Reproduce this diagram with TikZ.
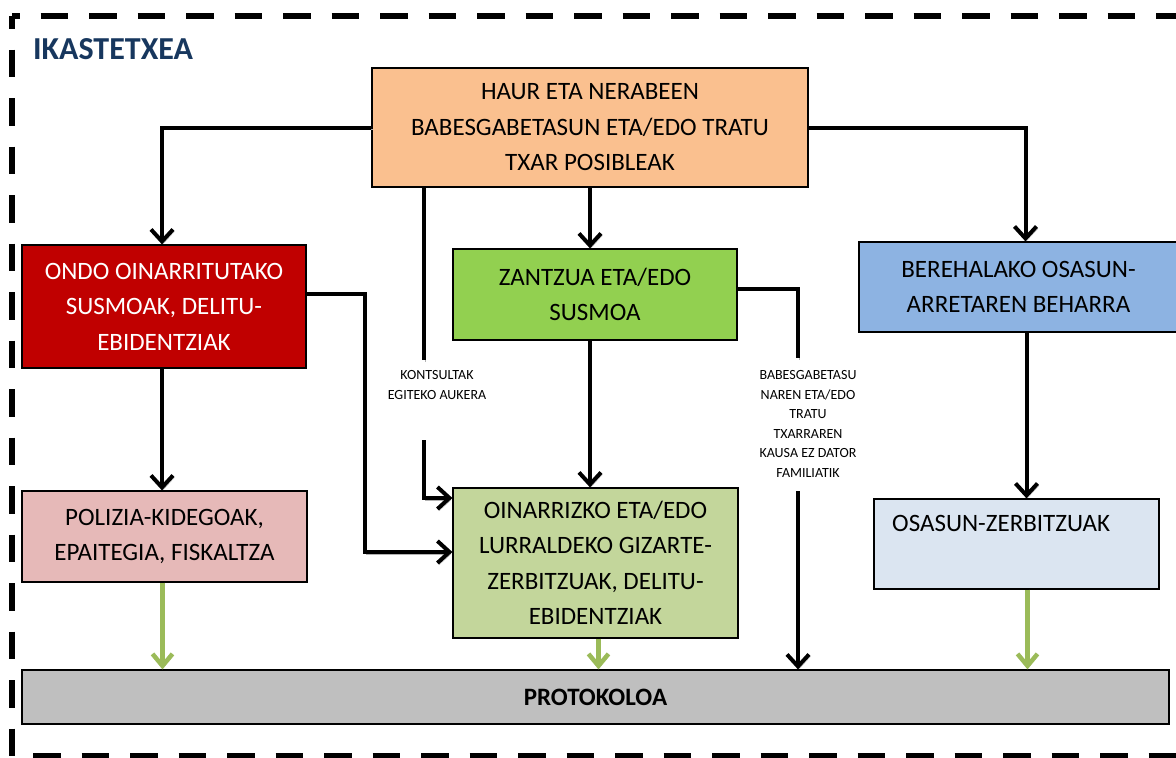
\documentclass[tikz,border=0pt]{standalone}
\usepackage{fontspec}
\setmainfont{Carlito}
\usetikzlibrary{arrows.meta}
\definecolor{cTop}{HTML}{FAC08F}
\definecolor{cRed}{HTML}{C00000}
\definecolor{cGreen}{HTML}{92D050}
\definecolor{cBlue}{HTML}{8DB3E2}
\definecolor{cPink}{HTML}{E6B9B8}
\definecolor{cOlive}{HTML}{C3D69B}
\definecolor{cLight}{HTML}{DBE5F1}
\definecolor{cGrey}{HTML}{BFBFBF}
\definecolor{cTitle}{HTML}{17375E}
\definecolor{cArrG}{HTML}{9BBB59}
\begin{document}
\begin{tikzpicture}[x=1pt,y=-1pt,
  box/.style={draw=black, line width=1.2pt, inner sep=0pt, align=center,
    font=\fontsize{25}{35.5}\selectfont},
  small/.style={align=center, inner sep=0pt, font=\fontsize{14}{19.5}\selectfont},
  conn/.style={line width=4pt, draw=black,
    -{Straight Barb[length=12pt,width=22pt]},
    preaction={draw=black!30, transform canvas={shift={(1.5pt,-2pt)}}}},
  line/.style={line width=4pt, draw=black,
    preaction={draw=black!30, transform canvas={shift={(1.5pt,-2pt)}}}},
  gconn/.style={line width=4.5pt, draw=cArrG,
    -{Straight Barb[length=12pt,width=20pt]}},
  border/.style={line width=5.5pt, draw=black, dash pattern=on 27.5pt off 21pt}
]
\useasboundingbox (0,0) rectangle (1176,758);
% dashed frame
\draw[border, dash phase=19.8pt] (12,16) -- (1200,16);
\draw[border, dash phase=15pt] (12,16) -- (12,756) -- (1200,756);
% title
\node[anchor=base west, inner sep=0pt, text=cTitle, font=\fontsize{32}{36}\selectfont\bfseries] (title) at (33,59) {IKASTETXEA};
% boxes
\node[box, fill=cTop, minimum width=436pt, minimum height=119pt] (top) at (590,127.5)
  {HAUR ETA NERABEEN\\BABESGABETASUN ETA/EDO TRATU\\TXAR POSIBLEAK};
\node[box, fill=cRed, text=white, minimum width=284pt, minimum height=123pt] (red) at (164,306.5)
  {ONDO OINARRITUTAKO\\SUSMOAK, DELITU-\\EBIDENTZIAK};
\node[box, fill=cGreen, minimum width=284pt, minimum height=91pt] (zan) at (595,294.5)
  {ZANTZUA ETA/EDO\\SUSMOA};
\node[box, fill=cBlue, minimum width=319pt, minimum height=90pt] (blue) at (1018.5,287)
  {BEREHALAKO OSASUN-\\ARRETAREN BEHARRA};
\node[box, fill=cPink, minimum width=285pt, minimum height=91pt] (pink) at (164.5,536.5)
  {POLIZIA-KIDEGOAK,\\EPAITEGIA, FISKALTZA};
\node[box, fill=cOlive, minimum width=285pt, minimum height=150pt] (oin) at (595.5,563)
  {OINARRIZKO ETA/EDO\\LURRALDEKO GIZARTE-\\ZERBITZUAK, DELITU-\\EBIDENTZIAK};
\node[box, fill=cLight, minimum width=285pt, minimum height=90pt] (osa) at (1016.5,544) {};
\node[anchor=base west, inner sep=0pt, font=\fontsize{25}{30}\selectfont] (osatxt) at (892,531) {OSASUN-ZERBITZUAK};
\node[box, fill=cGrey, minimum width=1147pt, minimum height=54pt, font=\fontsize{25}{30}\selectfont\bfseries] (prot) at (595.5,697) {PROTOKOLOA};
% side labels
\node[small] (kon) at (437,385) {KONTSULTAK\\EGITEKO AUKERA};
\node[small] (bab) at (808,424) {BABESGABETASU\\NAREN ETA/EDO\\TRATU\\TXARRAREN\\KAUSA EZ DATOR\\FAMILIATIK};
\coordinate (k1) at (424,360);
\coordinate (k2) at (424,440);
\coordinate (k3) at (798,358);
\coordinate (k4) at (798,491);
% black connectors
\draw[conn] (top.west) -| ([xshift=-2pt]red.north);
\draw[conn] (top.east) -| ([xshift=7pt]blue.north);
\draw[conn] (top.south) -- (top.south |- zan.north);
\draw[line] ([xshift=-166pt]top.south) -- (k1);
\draw[conn] (k2) |- ([yshift=65pt]oin.west);
\draw[conn] ([yshift=13pt]red.east) -- ++(58,0) |- ([yshift=11pt]oin.west);
\draw[line] ([yshift=6pt]zan.east) -| (k3);
\draw[conn] (k4) -- (k4 |- prot.north);
\draw[conn] ([xshift=-2pt]red.south) -- ([xshift=-2pt]red.south |- pink.north);
\draw[conn] ([xshift=-5pt]zan.south) -- ([xshift=-5pt]zan.south |- oin.north);
\draw[conn] ([xshift=8pt]blue.south) -- ([xshift=8pt]blue.south |- osa.north);
% green connectors
\draw[gconn] ([xshift=-2pt]pink.south) -- ([xshift=-2pt]pink.south |- prot.north);
\draw[gconn] ([xshift=3pt]oin.south) -- ([xshift=3pt]oin.south |- prot.north);
\draw[gconn] ([xshift=11pt]osa.south) -- ([xshift=11pt]osa.south |- prot.north);
\end{tikzpicture}
\end{document}
